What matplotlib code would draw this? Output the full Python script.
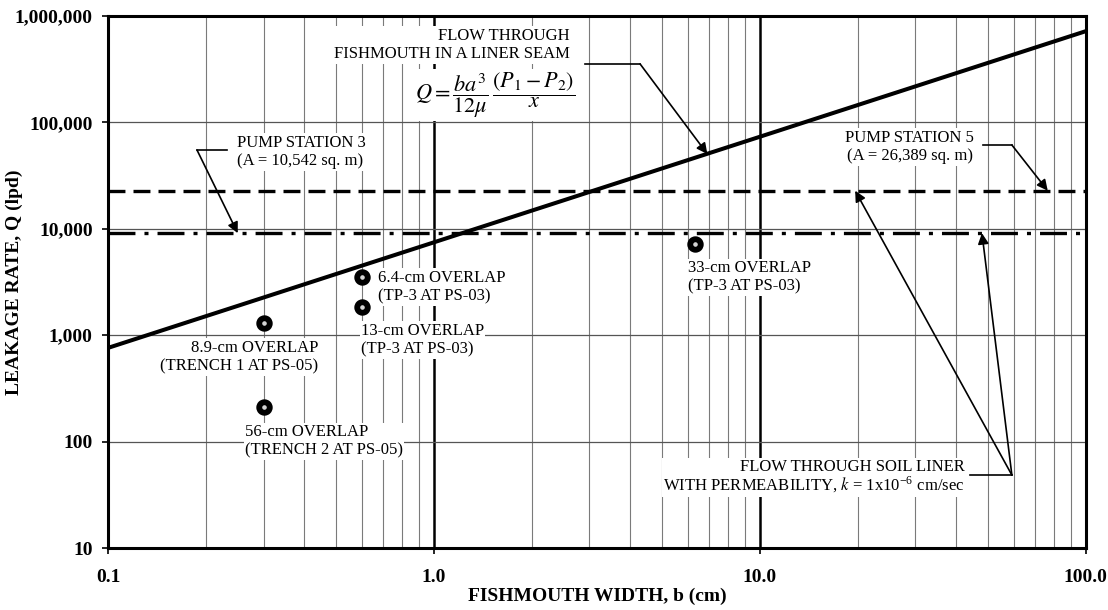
import matplotlib
matplotlib.use("Agg")
import matplotlib.pyplot as plt
from matplotlib.ticker import FixedLocator, FuncFormatter, NullFormatter

plt.rcParams['font.family'] = ['Liberation Serif', 'DejaVu Serif']
plt.rcParams['mathtext.fontset'] = 'stix'
plt.rcParams['lines.scale_dashes'] = False

# fishmouth seam flow line (end points)
seam_b = [0.1, 100.0]
seam_q = [760, 720000]

# soil liner leakage for each pump station
ps3_q = 9100
ps5_q = 22800

# measured fishmouths
pt_b = [0.3, 0.3, 0.6, 0.6, 6.3]
pt_q = [1300, 210, 3500, 1830, 7200]

x_ticks = [0.1, 1.0, 10.0, 100.0]
x_ticklabels = ['0.1', '1.0', '10.0', '100.0']
y_ticks = [10, 100, 1000, 10000, 100000, 1000000]

fig = plt.figure(figsize=(11.08, 6.10), dpi=100)
ax = fig.add_axes([0.0975, 0.1016, 0.8825, 0.8722])
ax.set_xscale('log')
ax.set_yscale('log')
ax.set_xlim(0.1, 100)
ax.set_ylim(10, 1e6)

# grid
minor_x = [m * 10.0 ** e for e in (-1, 0, 1) for m in range(2, 10)]
for xv in minor_x:
    ax.axvline(xv, color='#7a7a7a', lw=0.8, zorder=1)
for xv in (1.0, 10.0):
    ax.axvline(xv, color='black', lw=1.8, zorder=1)
for yv in y_ticks[1:-1]:
    ax.axhline(yv, color='#555555', lw=0.9, zorder=1)

# lines
ax.plot(seam_b, seam_q, color='black', lw=2.9, solid_capstyle='butt', zorder=3)
ax.plot([0.1, 100], [ps5_q, ps5_q], color='black', lw=2.4,
        dashes=(12.2, 5.8), zorder=3)
ax.plot([0.1, 100], [ps3_q, ps3_q], color='black', lw=2.4,
        dashes=(19.4, 6.5, 2.9, 6.5), zorder=3)

ax.plot(pt_b, pt_q, 'o', ms=7.6, mfc='#d4d4d4', mec='black', mew=4.2,
        ls='none', zorder=5)

box = dict(facecolor='white', edgecolor='none', pad=1.0)
fs = 12

# point labels
ax.text(0.673, 2840, '6.4-cm OVERLAP\n(TP-3 AT PS-03)', ha='left', va='center',
        fontsize=fs, bbox=box, zorder=4)
ax.text(0.597, 902, '13-cm OVERLAP\n(TP-3 AT PS-03)', ha='left', va='center',
        fontsize=fs, bbox=box, zorder=4)
ax.text(0.441, 624, '8.9-cm OVERLAP\n(TRENCH 1 AT PS-05)', ha='right',
        va='center', multialignment='right', fontsize=fs, bbox=box, zorder=4)
ax.text(0.263, 101, '56-cm OVERLAP\n(TRENCH 2 AT PS-05)', ha='left',
        va='center', fontsize=fs, bbox=box, zorder=4)
ax.text(6.01, 3520, '33-cm OVERLAP\n(TP-3 AT PS-03)', ha='left', va='center',
        fontsize=fs, bbox=box, zorder=4)

arrow = dict(arrowstyle='-|>', color='black', lw=1.2, mutation_scale=16,
             shrinkA=0, shrinkB=0)

# fishmouth seam label
ax.text(2.61, 534000, 'FLOW THROUGH\nFISHMOUTH IN A LINER SEAM', ha='right',
        va='center', multialignment='right', fontsize=fs, bbox=box, zorder=4)
ax.text(1.54, 181000,
        r'$Q=\dfrac{ba^3}{12\mu}\,\dfrac{\left(P_1-P_2\right)}{x}$',
        ha='center', va='center', fontsize=16, bbox=box, zorder=4)
ax.plot([2.90, 4.29], [354000, 354000], color='black', lw=1.2, zorder=4)
ax.annotate('', xy=(6.9, 50400), xytext=(4.29, 354000), arrowprops=arrow,
            zorder=4)

# pump station 3
ax.text(0.249, 52700, 'PUMP STATION 3\n(A = 10,542 sq. m)', ha='left',
        va='center', fontsize=fs, bbox=box, zorder=4)
ax.plot([0.1875, 0.232], [55000, 55000], color='black', lw=1.2, zorder=4)
ax.annotate('', xy=(0.25, ps3_q), xytext=(0.1875, 55000), arrowprops=arrow,
            zorder=4)

# pump station 5
ax.text(28.8, 58700, 'PUMP STATION 5\n(A = 26,389 sq. m)', ha='center',
        va='center', fontsize=fs, bbox=box, zorder=4)
ax.plot([48.3, 59.3], [61300, 61300], color='black', lw=1.2, zorder=4)
ax.annotate('', xy=(76.4, ps5_q), xytext=(59.3, 61300), arrowprops=arrow,
            zorder=4)

# soil liner
ax.text(42.5, 46.5,
        'FLOW THROUGH SOIL LINER\nWITH PERMEABILITY, $k$ = 1x10$^{\\mathregular{-6}}$ cm/sec',
        ha='right', va='center', multialignment='right', fontsize=fs,
        bbox=box, zorder=4, linespacing=1.0)
ax.plot([44.1, 59.3], [48.5, 48.5], color='black', lw=1.2, zorder=4)
ax.annotate('', xy=(19.6, ps5_q), xytext=(59.3, 48.5), arrowprops=arrow,
            zorder=4)
ax.annotate('', xy=(48.0, ps3_q), xytext=(59.3, 48.5), arrowprops=arrow,
            zorder=4)

# axes styling
for s in ax.spines.values():
    s.set_linewidth(2.2)
    s.set_zorder(6)

ax.xaxis.set_major_locator(FixedLocator(x_ticks))
ax.xaxis.set_major_formatter(FuncFormatter(lambda v, p: x_ticklabels[x_ticks.index(round(v, 1))] if round(v, 1) in x_ticks else ''))
ax.xaxis.set_minor_locator(FixedLocator([]))
ax.xaxis.set_minor_formatter(NullFormatter())
ax.yaxis.set_major_locator(FixedLocator(y_ticks))
ax.yaxis.set_major_formatter(FuncFormatter(lambda v, p: f'{int(round(v)):,}'))
ax.yaxis.set_minor_locator(FixedLocator([]))
ax.yaxis.set_minor_formatter(NullFormatter())

ax.tick_params(axis='x', direction='out', length=4, width=1.2, pad=11,
               labelsize=14)
ax.tick_params(axis='y', direction='out', length=4, width=1.2, pad=7,
               labelsize=14)
for lab in ax.get_xticklabels() + ax.get_yticklabels():
    lab.set_fontweight('bold')

ax.set_xlabel('FISHMOUTH WIDTH, b (cm)', fontsize=14, fontweight='bold')
ax.set_ylabel('LEAKAGE RATE, Q (lpd)', fontsize=14, fontweight='bold')
ax.xaxis.set_label_coords(0.5, -0.075)
ax.yaxis.set_label_coords(-0.087, 0.5)

fig.savefig('out.png', dpi=100)
